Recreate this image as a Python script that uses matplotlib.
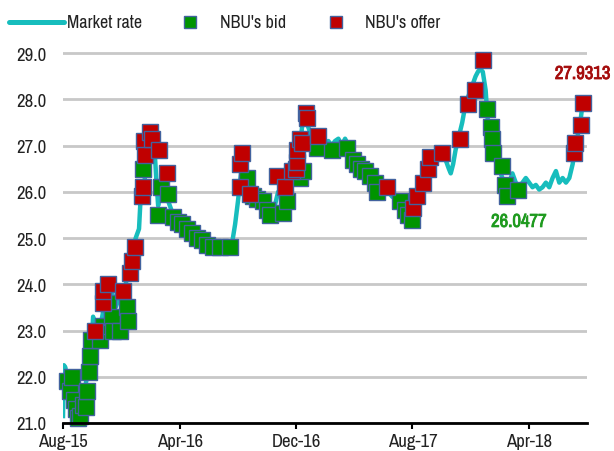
import matplotlib
matplotlib.use("Agg")
import matplotlib.pyplot as plt
import matplotlib.dates as mdates
import matplotlib.patheffects as pe
import pandas as pd
from matplotlib.lines import Line2D

plt.rcParams['font.family'] = ['Liberation Sans Narrow', 'Arial Narrow', 'Archivo Narrow',
                               'Roboto Condensed', 'PT Sans Narrow', 'Sofia Sans Condensed',
                               'DejaVu Sans']

# market rate, UAH per USD
rate_dates = [
    '2015-08-01', '2015-08-03', '2015-08-06', '2015-08-10', '2015-08-14', '2015-08-20',
    '2015-08-26', '2015-09-01', '2015-09-08', '2015-09-15', '2015-09-22', '2015-09-29',
    '2015-10-03', '2015-10-08', '2015-10-15', '2015-10-22', '2015-10-29', '2015-11-05',
    '2015-11-12', '2015-11-19', '2015-11-26', '2015-12-03', '2015-12-10', '2015-12-17',
    '2015-12-24', '2015-12-31', '2016-01-07', '2016-01-10', '2016-01-15', '2016-01-22',
    '2016-01-29', '2016-02-03', '2016-02-08', '2016-02-12', '2016-02-16', '2016-02-20',
    '2016-02-26', '2016-03-02', '2016-03-08', '2016-03-15', '2016-03-22', '2016-03-29',
    '2016-04-05', '2016-04-12', '2016-04-19', '2016-04-26', '2016-05-03', '2016-05-10',
    '2016-05-17', '2016-05-24', '2016-05-31', '2016-06-07', '2016-06-14', '2016-06-21',
    '2016-06-28', '2016-07-05', '2016-07-12', '2016-07-19', '2016-07-26', '2016-08-01',
    '2016-08-05', '2016-08-10', '2016-08-15', '2016-08-22', '2016-08-29', '2016-09-05',
    '2016-09-12', '2016-09-19', '2016-09-26', '2016-10-03', '2016-10-10', '2016-10-17',
    '2016-10-24', '2016-10-31', '2016-11-07', '2016-11-14', '2016-11-21', '2016-11-28',
    '2016-12-05', '2016-12-09', '2016-12-14', '2016-12-19', '2016-12-26', '2017-01-02',
    '2017-01-09', '2017-01-16', '2017-01-23', '2017-01-30', '2017-02-06', '2017-02-13',
    '2017-02-20', '2017-02-27', '2017-03-06', '2017-03-13', '2017-03-20', '2017-03-27',
    '2017-04-03', '2017-04-10', '2017-04-17', '2017-04-24', '2017-05-01', '2017-05-08',
    '2017-05-15', '2017-05-22', '2017-05-29', '2017-06-05', '2017-06-12', '2017-06-19',
    '2017-06-26', '2017-07-03', '2017-07-10', '2017-07-17', '2017-07-24', '2017-07-31',
    '2017-08-07', '2017-08-14', '2017-08-21', '2017-08-28', '2017-09-04', '2017-09-11',
    '2017-09-18', '2017-09-25', '2017-10-02', '2017-10-09', '2017-10-16', '2017-10-20',
    '2017-10-25', '2017-10-30', '2017-11-06', '2017-11-13', '2017-11-20', '2017-11-27',
    '2017-12-04', '2017-12-11', '2017-12-16', '2017-12-21', '2017-12-26', '2018-01-01',
    '2018-01-05', '2018-01-10', '2018-01-15', '2018-01-22', '2018-01-29', '2018-02-05',
    '2018-02-12', '2018-02-19', '2018-02-26', '2018-03-05', '2018-03-12', '2018-03-19',
    '2018-03-26', '2018-04-02', '2018-04-09', '2018-04-16', '2018-04-23', '2018-04-30',
    '2018-05-07', '2018-05-14', '2018-05-21', '2018-05-28', '2018-06-04', '2018-06-11',
    '2018-06-18', '2018-06-25', '2018-07-02', '2018-07-06', '2018-07-12', '2018-07-18',
    '2018-07-23',
]
rate_values = [
    21.15, 22.25, 22.2, 21.9, 21.6, 21.8,
    21.5, 21.6, 21.4, 21.7, 22.1, 22.6,
    23.3, 23.0, 22.9, 23.3, 23.7, 24.0,
    23.8, 23.5, 23.7, 23.9, 24.0, 24.3,
    24.7, 25.0, 25.2, 25.8, 26.0, 26.5,
    26.9, 27.2, 27.0, 26.3, 25.7, 26.0,
    26.5, 26.2, 25.8, 25.6, 25.5, 25.4,
    25.3, 25.2, 25.1, 25.1, 25.0, 24.95,
    24.9, 24.85, 24.8, 24.8, 24.8, 24.8,
    24.8, 24.8, 24.8, 24.85, 25.3, 25.8,
    26.2, 26.6, 26.3, 26.0, 25.9, 25.85,
    25.9, 25.7, 25.6, 25.55, 25.6, 25.7,
    26.0, 25.9, 25.8, 25.9, 26.2, 26.4,
    26.6, 27.0, 27.5, 27.7, 27.4, 27.2,
    27.0, 27.2, 27.0, 26.9, 27.1, 27.0,
    27.1, 27.15, 27.0, 27.15, 27.0, 26.9,
    26.8, 26.7, 26.6, 26.5, 26.45, 26.4,
    26.3, 26.2, 26.1, 26.1, 26.0, 25.9,
    25.85, 25.8, 25.7, 25.6, 25.5, 25.5,
    25.6, 25.8, 26.0, 26.2, 26.4, 26.6,
    26.8, 26.85, 26.8, 26.7, 26.5, 26.4,
    26.6, 26.9, 27.2, 27.5, 27.9, 28.1,
    28.3, 28.5, 28.6, 28.65, 28.6, 28.2,
    27.6, 27.3, 27.0, 26.7, 26.5, 26.3,
    26.1, 26.2, 26.4, 26.2, 26.1, 26.2,
    26.3, 26.2, 26.1, 26.15, 26.05, 26.1,
    26.2, 26.1, 26.3, 26.45, 26.2, 26.3,
    26.2, 26.3, 26.6, 26.9, 27.2, 27.5,
    27.9313,
]

# NBU interventions
bid_dates = [
    '2015-08-09', '2015-08-16', '2015-08-20', '2015-08-24', '2015-08-28', '2015-09-01',
    '2015-09-06', '2015-09-12', '2015-09-18', '2015-09-20', '2015-09-24', '2015-09-27',
    '2015-09-29', '2015-10-17', '2015-10-23', '2015-11-03', '2015-11-11', '2015-11-13',
    '2015-11-28', '2015-12-12', '2015-12-14', '2016-01-16', '2016-02-15', '2016-02-22',
    '2016-03-08', '2016-03-18', '2016-03-29', '2016-04-06', '2016-04-17', '2016-04-27',
    '2016-05-07', '2016-05-18', '2016-05-28', '2016-06-10', '2016-06-24', '2016-07-15',
    '2016-08-20', '2016-09-01', '2016-09-09', '2016-09-22', '2016-09-30', '2016-10-07',
    '2016-11-04', '2016-11-12', '2016-12-09', '2016-12-15', '2017-01-14', '2017-02-14',
    '2017-03-17', '2017-03-30', '2017-04-07', '2017-04-16', '2017-04-24', '2017-05-04',
    '2017-05-15', '2017-05-19', '2017-07-05', '2017-07-16', '2017-07-22', '2017-07-30',
    '2018-01-04', '2018-01-12', '2018-01-14', '2018-01-16', '2018-02-04', '2018-02-10',
    '2018-02-14', '2018-03-09',
]
bid_values = [
    21.9, 21.7, 22.0, 21.5, 21.3, 21.1,
    21.15, 21.4, 21.35, 21.7, 22.1, 22.45,
    22.8, 22.8, 23.1, 23.6, 23.3, 23.0,
    23.0, 23.5, 23.2, 26.5, 25.5, 26.1,
    25.95, 25.45, 25.35, 25.3, 25.2, 25.1,
    25.0, 24.95, 24.85, 24.8, 24.8, 24.8,
    26.3, 25.9, 25.85, 25.8, 25.6, 25.5,
    25.55, 25.8, 26.3, 26.45, 26.95, 26.9,
    26.95, 26.7, 26.6, 26.5, 26.45, 26.35,
    26.2, 26.0, 25.8, 25.6, 25.5, 25.4,
    27.8, 27.4, 27.15, 26.85, 26.55, 26.15,
    25.9, 26.0477,
]
offer_dates = [
    '2015-10-07', '2015-10-23', '2015-10-24', '2015-11-03', '2015-12-05', '2015-12-19',
    '2015-12-23', '2015-12-29', '2016-01-14', '2016-01-16', '2016-01-17', '2016-01-20',
    '2016-01-31', '2016-02-04', '2016-02-17', '2016-03-05', '2016-08-05', '2016-08-06',
    '2016-08-10', '2016-08-26', '2016-10-21', '2016-11-08', '2016-11-23', '2016-12-01',
    '2016-12-02', '2016-12-03', '2016-12-09', '2016-12-13', '2016-12-21', '2016-12-23',
    '2017-01-15', '2017-06-08', '2017-08-02', '2017-08-10', '2017-08-22', '2017-09-02',
    '2017-09-06', '2017-10-01', '2017-11-08', '2017-11-25', '2017-12-10', '2017-12-27',
    '2018-07-05', '2018-07-06', '2018-07-20', '2018-07-23',
]
offer_values = [
    23.0, 23.6, 23.85, 24.0, 23.85, 24.25,
    24.5, 24.8, 25.9, 26.1, 27.1, 26.8,
    27.3, 27.15, 26.9, 26.4, 26.1, 26.6,
    26.85, 25.95, 26.35, 26.1, 26.45, 26.5,
    26.65, 26.9, 27.15, 27.05, 27.7, 27.6,
    27.2, 26.1, 25.65, 25.9, 26.2, 26.5,
    26.75, 26.85, 27.15, 27.9, 28.2, 28.85,
    26.85, 27.05, 27.45, 27.9313,
]

tick_dates = ['2015-08-01', '2016-04-01', '2016-12-01', '2017-08-01', '2018-04-01']

teal = '#17bdbd'
green = '#009400'
red = '#c00000'
edge = '#42629e'

fig = plt.figure(figsize=(6.14, 4.52), dpi=100)
ax = fig.add_axes([63 / 614, 1 - 424 / 452, 524 / 614, 386 / 452])

rd = pd.to_datetime(rate_dates)
bd = pd.to_datetime(bid_dates)
od = pd.to_datetime(offer_dates)

ax.plot(rd, rate_values, color=teal, lw=3.2, solid_joinstyle='round', zorder=3)
ax.plot(bd, bid_values, ls='none', marker='s', ms=11.5, mfc=green, mec=edge, mew=1.0,
        zorder=4, clip_on=False)
ax.plot(od, offer_values, ls='none', marker='s', ms=11.5, mfc=red, mec=edge, mew=1.0,
        zorder=5, clip_on=False)

ax.set_xlim(pd.Timestamp('2015-08-01'), pd.Timestamp('2018-08-01'))
ax.set_ylim(21, 29.35)
ax.set_yticks([21, 22, 23, 24, 25, 26, 27, 28, 29])
ax.yaxis.set_major_formatter(plt.FormatStrFormatter('%.1f'))
ax.set_xticks(pd.to_datetime(tick_dates))
ax.xaxis.set_major_formatter(mdates.DateFormatter('%b-%y'))

ax.grid(axis='y', color='#c8c8c8', lw=2)
ax.set_axisbelow(True)
for s in ['left', 'right', 'top']:
    ax.spines[s].set_visible(False)
ax.spines['bottom'].set_linewidth(2)
ax.spines['bottom'].set_zorder(6)
ax.tick_params(axis='y', length=0, pad=12, labelsize=13.5, labelcolor='#222222')
ax.tick_params(axis='x', length=4, width=1.5, pad=3, labelsize=13.5, labelcolor='#222222')

# end-of-period values (thin stroke thickens the narrow face a little)
c_off, c_bid = '#a50d0d', '#1e9a1e'
t1 = ax.text(od[-1], 28.55, f'{offer_values[-1]:.4f}', color=c_off, fontsize=13.5,
             fontweight='bold', ha='center', va='center', clip_on=False)
t1.set_path_effects([pe.withStroke(linewidth=0.6, foreground=c_off)])
t2 = ax.text(pd.Timestamp('2018-03-12'), 25.35, f'{bid_values[-1]:.4f}', color=c_bid,
             fontsize=13.5, fontweight='bold', ha='center', va='center')
t2.set_path_effects([pe.withStroke(linewidth=0.6, foreground=c_bid)])

# legend across the top
ly = 1 - 23 / 452
fig.add_artist(Line2D([9 / 614, 64 / 614], [ly, ly], color=teal, lw=3.6,
                      solid_capstyle='round'))
fig.text(67 / 614, ly, 'Market rate', fontsize=13, va='center', color='#222222')
fig.add_artist(Line2D([190 / 614], [ly], marker='s', ms=8, mfc=green, mec=edge, mew=1))
fig.text(220 / 614, ly, "NBU's bid", fontsize=13, va='center', color='#222222')
fig.add_artist(Line2D([336 / 614], [ly], marker='s', ms=8, mfc=red, mec=edge, mew=1))
fig.text(365 / 614, ly, "NBU's offer", fontsize=13, va='center', color='#222222')

fig.savefig('out.png', dpi=100)
